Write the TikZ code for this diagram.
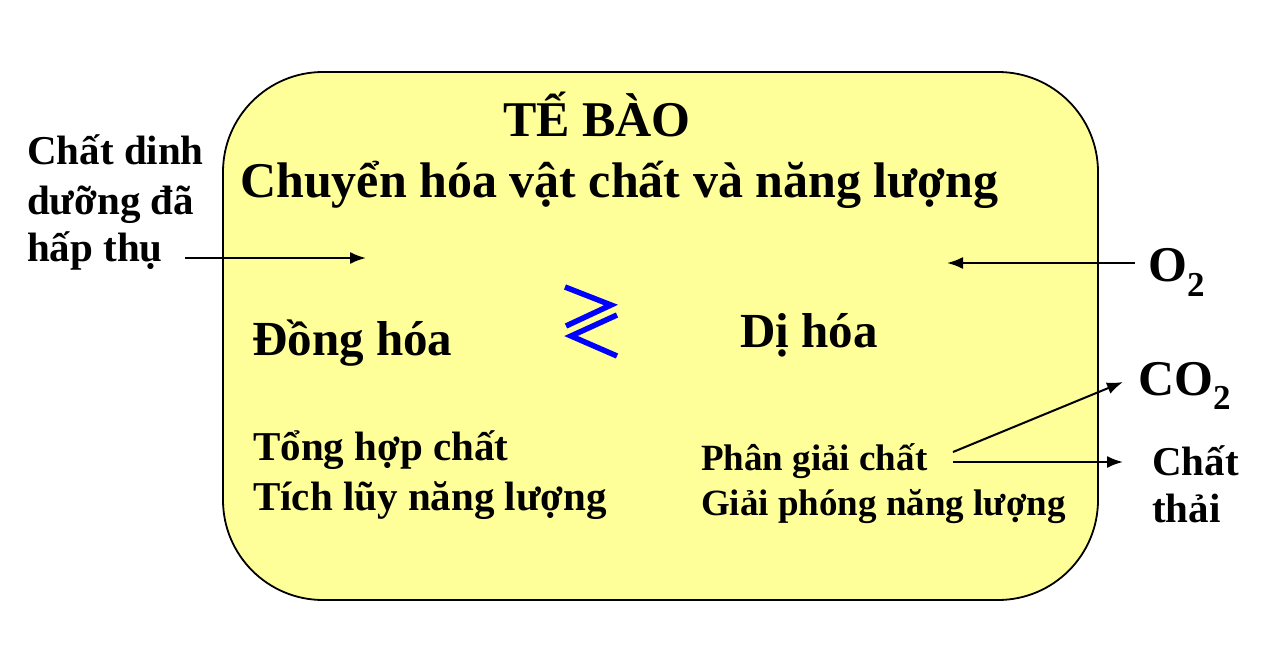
\documentclass[tikz,border=0pt]{standalone}
\usepackage{fontspec}
\setmainfont{Liberation Serif}
\usetikzlibrary{arrows.meta}
\definecolor{cellfill}{RGB}{255,255,153}
\definecolor{symblue}{RGB}{0,0,255}
\tikzset{
  txt/.style={inner sep=0pt, anchor=base west, font=\bfseries},
  big/.style={txt, font=\bfseries\fontsize{50}{58}\selectfont},
  proc/.style={txt, font=\bfseries\fontsize{49}{57}\selectfont},
  mid/.style={txt, font=\bfseries\fontsize{41}{48}\selectfont},
  sml/.style={txt, font=\bfseries\fontsize{37}{44}\selectfont},
  chem/.style={txt, font=\bfseries\fontsize{50}{58}\selectfont},
  conn/.style={line width=2pt, -{Latex[length=16pt,width=12pt]}},
}
\begin{document}
\begin{tikzpicture}[x=1pt,y=-1pt]
\useasboundingbox (0,0) rectangle (1274,652);
\fill[white] (0,0) rectangle (1274,652);
\draw[line width=1.8pt, fill=cellfill, rounded corners=100pt] (223,72) rectangle (1098,600);
% titles
\node[big] (title) at (503,137) {TẾ BÀO};
\node[big] (sub) at (240,198) {Chuyển hóa vật chất và năng lượng};
% left input
\node[mid] (in1) at (27,165) {Chất dinh};
\node[mid] (in2) at (27,215) {dưỡng đã};
\node[mid] (in3) at (27,262) {hấp thụ};
\coordinate (inS) at (185,258);
\coordinate (inE) at (366,258);
\draw[conn] (inS) -- (inE);
% O2
\node[chem] (o2) at (1148,282) {O\textsubscript{2}};
\coordinate (oS) at (1135,263);
\coordinate (oE) at (947,263);
\draw[conn] (oS) -- (oE);
% processes
\node[proc] (dong) at (252,355) {Đồng hóa};
\node[proc] (di) at (740,347) {Dị hóa};
\draw[symblue, line width=5.5pt, line join=miter] (565,287) -- (611,305) -- (566,326);
\draw[symblue, line width=5.5pt, line join=miter] (617,315) -- (571,336) -- (617,356);
\node[mid] (t1) at (253,460) {Tổng hợp chất};
\node[mid] (t2) at (253,510) {Tích lũy năng lượng};
\node[sml] (p1) at (701,470) {Phân giải chất};
\node[sml] (p2) at (701,515) {Giải phóng năng lượng};
% outputs
\node[chem] (co2) at (1138,395) {CO\textsubscript{2}};
\node[mid] (w1) at (1152,475) {Chất};
\node[mid] (w2) at (1152,522) {thải};
\coordinate (pA) at (953,452);
\coordinate (pB) at (953,462);
\coordinate (cE) at (1123,382);
\coordinate (wE) at (1123,462);
\draw[conn] (pA) -- (cE);
\draw[conn] (pB) -- (wE);
\end{tikzpicture}
\end{document}
